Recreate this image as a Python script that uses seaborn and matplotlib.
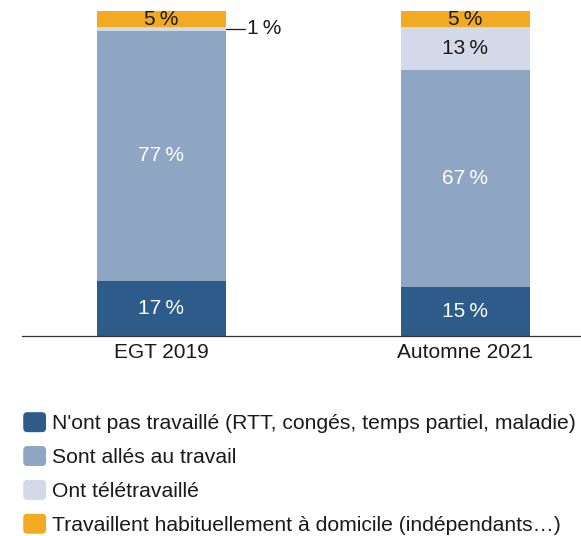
import numpy as np
import pandas as pd
import matplotlib
matplotlib.use('Agg')
import matplotlib.pyplot as plt
import seaborn as sns
from matplotlib.patches import Patch, FancyBboxPatch
from matplotlib.legend_handler import HandlerPatch

periods = ['EGT 2019', 'Automne 2021']
non_travail = [17, 15]
sur_site = [77, 67]
teletravail = [1, 13]
domicile = [5, 5]

series = [
    "N'ont pas travaillé (RTT, congés, temps partiel, maladie)",
    'Sont allés au travail',
    'Ont télétravaillé',
    'Travaillent habituellement à domicile (indépendants…)',
]
colors = ['#2E5C8A', '#8FA5C4', '#D3D9E8', '#F2AA22']
text_colors = ['white', 'white', '#1a1a1a', '#1a1a1a']


class RoundedSquare(HandlerPatch):
    def create_artists(self, legend, orig_handle, xdescent, ydescent,
                       width, height, fontsize, trans):
        p = FancyBboxPatch((-xdescent, -ydescent), width, height,
                           boxstyle='round,pad=0,rounding_size=3',
                           facecolor=orig_handle.get_facecolor(),
                           edgecolor='none', transform=trans)
        return [p]


sns.set_theme(style='white')
plt.rcParams['font.family'] = ['Liberation Sans', 'DejaVu Sans']

values = np.array([non_travail, sur_site, teletravail, domicile], dtype=float)
cum = values.cumsum(axis=0)

fig = plt.figure(figsize=(5.81, 5.36), dpi=100)
ax = fig.add_axes([22 / 581, 200 / 536, 559 / 581, 325 / 536])

# stacked bars: draw cumulative totals from top layer down
for i in range(len(series) - 1, -1, -1):
    df = pd.DataFrame({'period': periods, 'value': cum[i]})
    sns.barplot(data=df, x='period', y='value', color=colors[i], width=0.424,
                saturation=1, ax=ax, edgecolor='none', linewidth=0)

for j in range(len(periods)):
    for i in range(len(series)):
        v = values[i, j]
        mid = cum[i, j] - v / 2
        if v >= 3:
            ax.text(j, mid, f'{v:.0f}\u2009%', ha='center', va='center',
                    color=text_colors[i], fontsize=15)
        else:
            x_edge = j + 0.212
            ax.plot([x_edge, x_edge + 0.062], [mid, mid], color='#1a1a1a', lw=0.9,
                    clip_on=False)
            ax.text(x_edge + 0.068, mid, f'{v:.0f}\u2009%', ha='left', va='center',
                    color='#1a1a1a', fontsize=15)

ax.set_xlim((22 - 161.5) / 304, (581 - 161.5) / 304)
ax.set_ylim(0, 100)
ax.set_xlabel('')
ax.set_ylabel('')
ax.set_yticks([])
ax.tick_params(axis='x', length=0, pad=5, labelsize=15, labelcolor='#1a1a1a')
for s in ['top', 'right', 'left']:
    ax.spines[s].set_visible(False)
ax.spines['bottom'].set_color('#333333')
ax.spines['bottom'].set_linewidth(0.9)

handles = [Patch(facecolor=c, edgecolor='none') for c in colors]
fig.legend(handles, series, loc='upper left', bbox_to_anchor=(0.040, 0.231),
           frameon=False, fontsize=15.2, handlelength=1.08, handleheight=1.08,
           handletextpad=0.3, labelspacing=0.6, borderaxespad=0, borderpad=0,
           labelcolor='#1a1a1a', handler_map={Patch: RoundedSquare()})

fig.savefig('out.png', dpi=100)
